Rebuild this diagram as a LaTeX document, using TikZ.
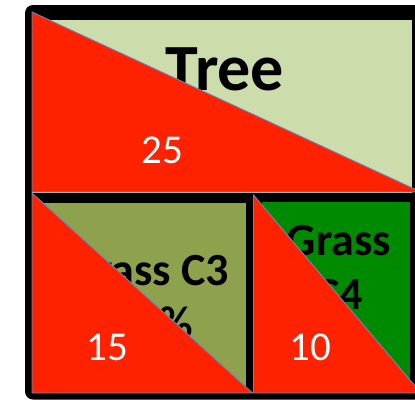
\documentclass[tikz,border=0pt]{standalone}
\usepackage{fontspec}
\setmainfont{Carlito}
\definecolor{tred}{HTML}{FF2200}
\definecolor{tblue}{HTML}{5B8CC8}
\definecolor{treeg}{HTML}{CCDCAB}
\definecolor{olivec}{HTML}{8EA14D}
\definecolor{greenc}{HTML}{008A00}
\begin{document}
\begin{tikzpicture}[x=1pt,y=-1pt,
  tri/.style={fill=tred, draw=tblue, line width=0.9pt, line join=miter},
  lbl/.style={inner sep=0pt, font=\bfseries\fontsize{46}{46}\selectfont, text=black},
  num/.style={inner sep=0pt, font=\fontsize{41}{41}\selectfont, text=white}]
\useasboundingbox (0,0) rectangle (415,399);
\clip (0,0) rectangle (415,399);
% black frame
\fill[black, rounded corners=8pt] (25,5) rectangle (445,399.5);
% coloured boxes
\fill[treeg] (32,20) rectangle (412,193);
\fill[olivec] (38,202.5) rectangle (245.5,393);
\fill[greenc] (262,202) rectangle (410,393);
% labels
\node[lbl, font=\bfseries\fontsize{66}{66}\selectfont, anchor=base] (tree) at (225,90) {Tree};
\node[lbl, anchor=base] (c3a) at (148,285) {Grass C3};
\node[lbl, anchor=base east] (c3b) at (193,338) {\%};
\node[lbl, anchor=base] (c4a) at (339,255) {Grass};
\node[lbl, anchor=base] (c4b) at (339,309) {C4};
\node[lbl, anchor=base east] (c4c) at (381,370) {\%};
% red triangles
\draw[tri] (32,12) -- (32,192) -- (421,192) -- cycle;
\draw[tri] (32,193) -- (32,393) -- (252.5,393) -- cycle;
\draw[tri] (253.5,195) -- (253.5,393) -- (421,393) -- cycle;
% numbers
\node[num, anchor=base] (n25) at (162,163) {25};
\node[num, anchor=base] (n15) at (107,360) {15};
\node[num, anchor=base] (n10) at (310,360) {10};
\end{tikzpicture}
\end{document}
